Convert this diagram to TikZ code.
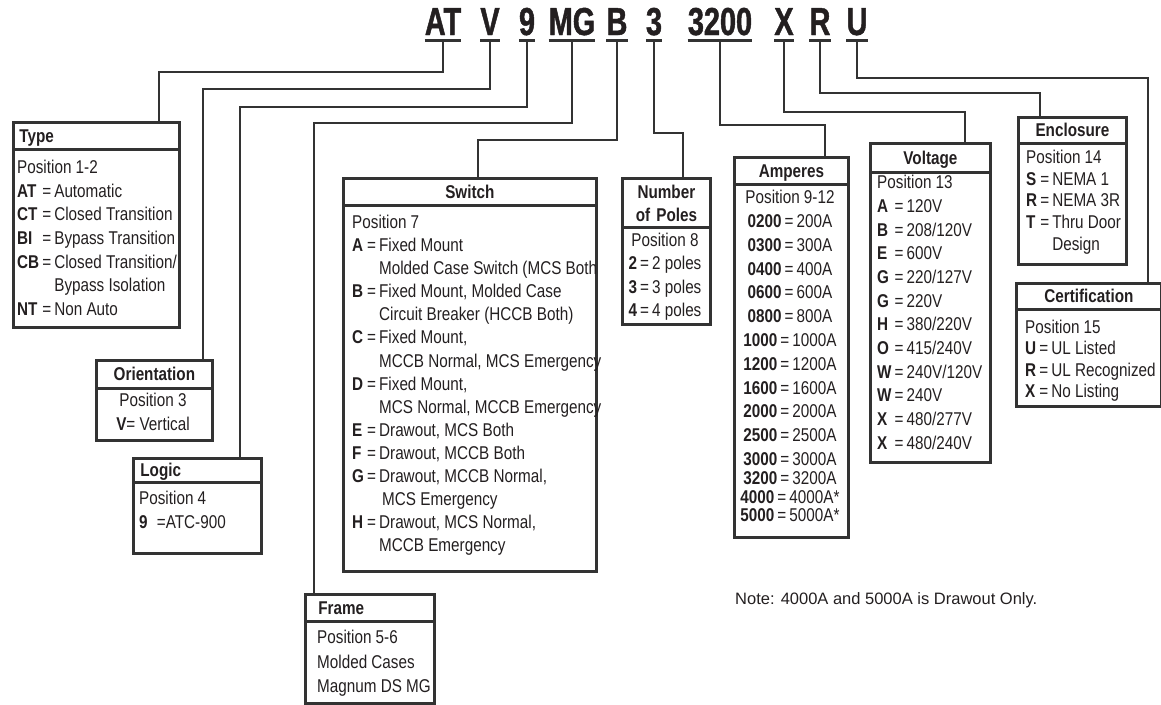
\documentclass[tikz,border=0pt]{standalone}
\usepackage{fontspec}
\setmainfont[FakeStretch=0.825]{Liberation Sans}
\newfontfamily\codefont[FakeStretch=0.74, BoldFeatures={FakeBold=1.2}]{Liberation Sans}
\newfontfamily\notefont{Liberation Sans}
\newcommand{\bodyfont}[1]{\fontsize{18.5}{#1}\selectfont}
\definecolor{linec}{HTML}{333333}
\definecolor{inkc}{HTML}{231F20}

\begin{document}
\begin{tikzpicture}[x=1pt, y=-1pt,
    conn/.style={draw=linec, line width=2.8pt},
    code/.style={inner sep=0pt, text depth=5pt, anchor=base, text=inkc, font=\codefont\bfseries\fontsize{39}{39}\selectfont},
    cell/.style={draw=linec, line width=2.8pt, inner sep=0pt, anchor=north west},
    hd/.style={draw=linec, line width=2.8pt, anchor=north west, inner xsep=6pt, inner ysep=0pt, text=inkc, text height=13pt, text depth=0pt, font=\bfseries\bodyfont{21}},
    txt/.style={inner sep=0pt, text=inkc},
  ]
    \useasboundingbox (0,0) rectangle (1161,704);

    \node[code] (at) at (443,35) {AT};
    \node[code] (v) at (490,35) {V};
    \node[code] (nine) at (527,35) {9};
    \node[code] (mg) at (572,35) {MG};
    \node[code] (b) at (617,35) {B};
    \node[code] (three) at (654,35) {3};
    \node[code] (amps) at (720,35) {3200};
    \node[code] (x) at (784,35) {X};
    \node[code] (r) at (820,35) {R};
    \node[code] (u) at (857,35) {U};
    \foreach \n in {at,v,nine,mg,b,three,amps,x,r,u}
      \draw[conn] (\n.south west) -- (\n.south east);

    % boxes
    \node[cell, minimum width=166, minimum height=205] (typebox) at (12,121) {};
    \node[hd, text width=154, align=left, minimum height=27] (typehd) at (typebox.north west) {Type};
    \node[txt, anchor=base west, font=\bodyfont{23.6}] (typetxt) at (17,173.6) {\begin{tabular}[t]{@{}l@{\,}c@{\,}l@{}}
      \multicolumn{3}{@{}l@{}}{Position 1-2}\\
      \textbf{AT}&=&Automatic\\
      \textbf{CT}&=&Closed Transition\\
      \textbf{BI}&=&Bypass Transition\\
      \textbf{CB}&=&Closed Transition/\\
      &&Bypass Isolation\\
      \textbf{NT}&=&Non Auto
    \end{tabular}};

    \node[cell, minimum width=116, minimum height=80] (orientbox) at (95,359) {};
    \node[hd, text width=104, align=center, minimum height=28] (orienthd) at (orientbox.north west) {Orientation};
    \node[txt, anchor=base, font=\bodyfont{24}] (orienttxt) at (153,406.6) {\begin{tabular}[t]{@{}c@{}}
      Position 3\\
      \textbf{V}= Vertical
    \end{tabular}};

    \node[cell, minimum width=128, minimum height=95] (logicbox) at (132,457) {};
    \node[hd, inner xsep=7pt, text width=114, align=left, minimum height=24] (logichd) at (logicbox.north west) {Logic};
    \node[txt, anchor=base west, font=\bodyfont{24}] (logictxt) at (139,504.6) {\begin{tabular}[t]{@{}l@{}}
      Position 4\\
      \textbf{9}\enspace=ATC-900
    \end{tabular}};

    \node[cell, minimum width=129, minimum height=109] (framebox) at (304,593) {};
    \node[hd, inner xsep=13pt, text width=103, align=left, minimum height=27] (framehd) at (framebox.north west) {Frame};
    \node[txt, anchor=base west, font=\bodyfont{24.5}] (frametxt) at (317,643.6) {\begin{tabular}[t]{@{}l@{}}
      Position 5-6\\
      Molded Cases\\
      Magnum DS MG
    \end{tabular}};

    \node[cell, minimum width=253, minimum height=393] (switchbox) at (342,177) {};
    \node[hd, text width=241, align=center, minimum height=27] (switchhd) at (switchbox.north west) {Switch};
    \node[txt, anchor=base west, font=\bodyfont{23.07}] (switchtxt) at (352,228.6) {\begin{tabular}[t]{@{}l@{\,}c@{\,}l@{}}
      \multicolumn{3}{@{}l@{}}{Position 7}\\
      \textbf{A}&=&Fixed Mount\\
      &&Molded Case Switch (MCS Both\\
      \textbf{B}&=&Fixed Mount, Molded Case\\
      &&Circuit Breaker (HCCB Both)\\
      \textbf{C}&=&Fixed Mount,\\
      &&MCCB Normal, MCS Emergency\\
      \textbf{D}&=&Fixed Mount,\\
      &&MCS Normal, MCCB Emergency\\
      \textbf{E}&=&Drawout, MCS Both\\
      \textbf{F}&=&Drawout, MCCB Both\\
      \textbf{G}&=&Drawout, MCCB Normal,\\
      &&\,MCS Emergency\\
      \textbf{H}&=&Drawout, MCS Normal,\\
      &&MCCB Emergency
    \end{tabular}};

    \node[cell, minimum width=88, minimum height=146] (polesbox) at (621,177) {};
    \node[hd, text width=76, align=center, minimum height=49, text height=, text depth=, font=\bfseries\bodyfont{23}] (poleshd) at (polesbox.north west) {Number\\of Poles};
    \node[txt, anchor=base, font=\bodyfont{23.3}] (polestxt) at (665,246.6) {\begin{tabular}[t]{@{}c@{}}
      Position 8\\
      \textbf{2}\,=\,2 poles\\
      \textbf{3}\,=\,3 poles\\
      \textbf{4}\,=\,4 poles
    \end{tabular}};

    \node[cell, minimum width=114, minimum height=380] (ampbox) at (733,156) {};
    \node[hd, text width=102, align=center, minimum height=27] (amphd) at (ampbox.north west) {Amperes};
    \node[txt, anchor=base, font=\bodyfont{23.8}] (amptxt) at (790,203.6) {\begin{tabular}[t]{@{}c@{}}
      Position 9-12\\
      \textbf{0200}\,=\,200A\\
      \textbf{0300}\,=\,300A\\
      \textbf{0400}\,=\,400A\\
      \textbf{0600}\,=\,600A\\
      \textbf{0800}\,=\,800A\\
      \textbf{1000}\,=\,1000A\\
      \textbf{1200}\,=\,1200A\\
      \textbf{1600}\,=\,1600A\\
      \textbf{2000}\,=\,2000A\\
      \textbf{2500}\,=\,2500A\\
      \textbf{3000}\,=\,3000A\\[-5pt]
      \textbf{3200}\,=\,3200A\\[-5pt]
      \textbf{4000}\,=\,4000A*\\[-5pt]
      \textbf{5000}\,=\,5000A*
    \end{tabular}};

    \node[cell, minimum width=120, minimum height=319] (voltbox) at (869,142) {};
    \node[hd, text width=108, align=center, minimum height=29] (volthd) at (voltbox.north west) {Voltage};
    \node[txt, anchor=base west, font=\bodyfont{23.7}] (volttxt) at (877,188.6) {\begin{tabular}[t]{@{}l@{\,}c@{\,}l@{}}
      \multicolumn{3}{@{}l@{}}{Position 13}\\
      \textbf{A}&=&120V\\
      \textbf{B}&=&208/120V\\
      \textbf{E}&=&600V\\
      \textbf{G}&=&220/127V\\
      \textbf{G}&=&220V\\
      \textbf{H}&=&380/220V\\
      \textbf{O}&=&415/240V\\
      \textbf{W}&=&240V/120V\\
      \textbf{W}&=&240V\\
      \textbf{X}&=&480/277V\\
      \textbf{X}&=&480/240V
    \end{tabular}};

    \node[cell, minimum width=108, minimum height=147] (enclbox) at (1017,116) {};
    \node[hd, text width=96, align=center, minimum height=26] (enclhd) at (enclbox.north west) {Enclosure};
    \node[txt, anchor=base west, font=\bodyfont{21.6}] (encltxt) at (1026,163.6) {\begin{tabular}[t]{@{}l@{\,}c@{\,}l@{}}
      \multicolumn{3}{@{}l@{}}{Position 14}\\
      \textbf{S}&=&NEMA 1\\
      \textbf{R}&=&NEMA 3R\\
      \textbf{T}&=&Thru Door\\
      &&Design
    \end{tabular}};

    \node[cell, minimum width=145, minimum height=123] (certbox) at (1015,282) {};
    \node[hd, text width=133, align=center, minimum height=26] (certhd) at (certbox.north west) {Certification};
    \node[txt, anchor=base west, font=\bodyfont{21.3}] (certtxt) at (1025,333.6) {\begin{tabular}[t]{@{}l@{\,}c@{\,}l@{}}
      \multicolumn{3}{@{}l@{}}{Position 15}\\
      \textbf{U}&=&UL Listed\\
      \textbf{R}&=&UL Recognized\\
      \textbf{X}&=&No Listing
    \end{tabular}};

    \node[txt, anchor=west, font=\notefont\fontsize{16.5}{18}\selectfont] (note) at (735,600) {Note: 4000A and 5000A is Drawout Only.};

    % connectors
    \coordinate (atbend) at (159,72);
    \coordinate (vbend) at (203,89);
    \coordinate (ninebend) at (240,107);
    \coordinate (mgbend) at (314,123);
    \coordinate (bbend) at (478,140);
    \coordinate (threebend) at (683,133);
    \coordinate (ampsbend) at (825,125);
    \coordinate (xbend) at (965,112);
    \coordinate (rbend) at (1040,93);
    \coordinate (ubend) at (1148,78);

    \draw[conn] (at.south) |- (atbend) -- (atbend |- typebox.north);
    \draw[conn] (v.south) |- (vbend) -- (vbend |- orientbox.north);
    \draw[conn] (nine.south) |- (ninebend) -- (ninebend |- logicbox.north);
    \draw[conn] (mg.south) |- (mgbend) -- (mgbend |- framebox.north);
    \draw[conn] (b.south) |- (bbend) -- (bbend |- switchbox.north);
    \draw[conn] (three.south) |- (threebend) -- (threebend |- polesbox.north);
    \draw[conn] (amps.south) |- (ampsbend) -- (ampsbend |- ampbox.north);
    \draw[conn] (x.south) |- (xbend) -- (xbend |- voltbox.north);
    \draw[conn] (r.south) |- (rbend) -- (rbend |- enclbox.north);
    \draw[conn] (u.south) |- (ubend) -- (ubend |- certbox.north);
  \end{tikzpicture}
\end{document}
